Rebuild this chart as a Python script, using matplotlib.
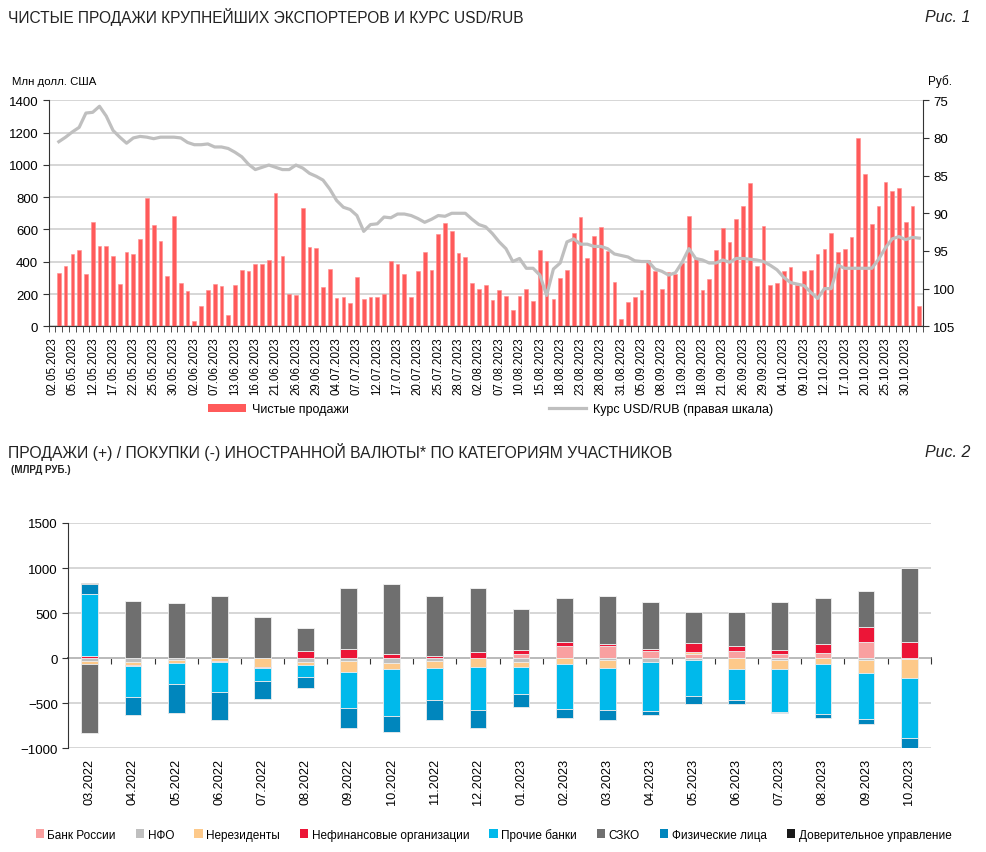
import numpy as np
import pandas as pd
import matplotlib
matplotlib.use("Agg")
import matplotlib.pyplot as plt
from matplotlib.patches import Patch
from matplotlib.lines import Line2D

plt.rcParams['font.family'] = ['Liberation Sans', 'DejaVu Sans']

# --- Рис. 1: daily data (first trading day has no value) ---
holidays = pd.to_datetime(["2023-05-08", "2023-05-09", "2023-06-12"])
days = pd.bdate_range("2023-05-02", "2023-11-01")
days = days[~days.isin(holidays)]
day_labels = [d.strftime("%d.%m.%Y") for d in days]

net_sales = [np.nan,
    330, 374, 448, 475, 326, 646, 496, 498, 434, 260,
    463, 448, 541, 793, 628, 529, 310, 684, 266, 217,
    33, 128, 227, 262, 250, 70, 256, 349, 345, 386,
    388, 411, 824, 438, 202, 194, 735, 494, 487, 242,
    357, 173, 182, 145, 304, 169, 184, 184, 200, 407,
    388, 324, 184, 345, 463, 349, 570, 642, 589, 456,
    430, 268, 233, 256, 165, 225, 188, 103, 186, 229,
    159, 471, 403, 169, 301, 349, 576, 677, 421, 560,
    613, 465, 273, 45, 153, 182, 225, 411, 341, 231,
    339, 322, 392, 681, 417, 223, 295, 473, 611, 525,
    665, 745, 888, 374, 624, 258, 268, 343, 368, 258,
    343, 349, 446, 479, 580, 460, 479, 553, 1167, 946,
    636, 745, 892, 838, 859, 646, 745, 126]

usd_rub = [np.nan,
    80.5, 79.9, 79.2, 78.6, 76.7, 76.6, 75.8, 77.1, 79.0, 79.9,
    80.7, 80.0, 79.8, 79.9, 80.1, 79.9, 79.9, 79.9, 80.0, 80.6,
    80.9, 80.9, 80.8, 81.2, 81.2, 81.4, 81.9, 82.5, 83.5, 84.2,
    83.9, 83.6, 83.9, 84.2, 84.2, 83.6, 84.0, 84.7, 85.1, 85.6,
    86.8, 88.3, 89.2, 89.5, 90.3, 92.4, 91.5, 91.4, 90.5, 90.6,
    90.1, 90.1, 90.3, 90.7, 91.2, 90.8, 90.3, 90.4, 90.0, 90.0,
    90.0, 90.8, 91.5, 91.8, 92.7, 93.8, 94.7, 96.4, 96.0, 97.3,
    97.3, 98.2, 100.9, 97.4, 96.6, 93.8, 93.4, 94.1, 94.1, 94.4,
    94.4, 94.7, 95.4, 95.6, 95.8, 96.3, 96.4, 96.4, 97.4, 97.7,
    98.2, 97.9, 96.5, 94.7, 96.0, 96.2, 96.6, 96.6, 96.2, 96.5,
    96.0, 96.0, 96.1, 96.2, 96.4, 96.9, 97.5, 98.5, 99.2, 99.4,
    99.6, 100.5, 101.3, 100.0, 100.0, 96.9, 97.3, 97.3, 97.3, 97.3,
    97.3, 96.1, 94.6, 93.4, 93.1, 93.5, 93.2, 93.3]

# --- Рис. 2: monthly data, bn RUB ---
months = ["03.2022", "04.2022", "05.2022", "06.2022", "07.2022", "08.2022",
          "09.2022", "10.2022", "11.2022", "12.2022", "01.2023", "02.2023",
          "03.2023", "04.2023", "05.2023", "06.2023", "07.2023", "08.2023",
          "09.2023", "10.2023"]
bank_russia = [0, 0, 0, 0, 0, 0, 0, 0, 0, 0, 44, 137, 133, 81, 48, 74, 44, 52, 174, 0]
nfo = [-37, -41, -22, -5, -5, -48, -30, -59, -30, -5, -41, 0, -22, -41, -26, 0, -26, 0, -19, -11]
nonres = [-33, -41, -37, -30, -95, -30, -126, -67, -85, -96, -59, -63, -89, 0, 22, -119, -93, -67, -152, -211]
nonfin = [20, -11, 0, -12, -11, 78, 96, 44, 26, 70, 41, 37, 22, 22, 100, 63, 41, 100, 170, 174]
other_banks = [695, -344, -233, -333, -148, -133, -404, -522, -356, -474,
               -304, -500, -470, -548, -400, -348, -481, -559, -511, -663]
szko = [-760, 630, 615, 693, 456, 259, 685, 774, 663, 707, 459, 493, 530, 522, 341, 374, 533, 519, 396, 830]
individuals = [111, -193, -319, -305, -193, -122, -222, -174, -222, -207,
               -144, -104, -104, -41, -81, -41, -11, -44, -52, -115]
trust = [8, 0, 0, 0, 0, 0, 0, 0, 0, 0, 0, 0, 0, 0, -7, 0, 0, 0, 0, 0]

series_names = ["Банк России", "НФО", "Нерезиденты", "Нефинансовые организации",
                "Прочие банки", "СЗКО", "Физические лица", "Доверительное управление"]
series_vals = [bank_russia, nfo, nonres, nonfin, other_banks, szko, individuals, trust]
series_colors = ["#F9A0A0", "#BFBFBF", "#FDC98A", "#EC1537",
                 "#00B9EB", "#6F6F6F", "#0086BD", "#1A1A1A"]

fig = plt.figure(figsize=(9.87, 8.53), dpi=100)

# ---------------- top chart ----------------
ax1 = fig.add_axes([0.0493, 0.6163, 0.8855, 0.265])
x = np.arange(len(day_labels))
ax1.bar(x, net_sales, width=0.55, color="#FF5A5A", edgecolor="#FF8C8C", linewidth=0.4, zorder=2)
ax1.set_xlim(-0.5, len(x) - 0.5)
ax1.set_ylim(0, 1400)
ax1.set_yticks(range(0, 1401, 200))
ax1.yaxis.grid(True, color="#D0D0D0", linewidth=1.2, zorder=0)
ax1.set_axisbelow(True)
ax1.set_xticks(x[::3])
ax1.set_xticklabels(day_labels[::3], rotation=90, fontsize=8.3)
ax1.set_xticks(np.arange(-0.5, len(x)), minor=True)
ax1.tick_params(axis="x", which="major", length=0, pad=7)
ax1.tick_params(axis="x", which="minor", length=4, color="#333333")
ax1.tick_params(axis="y", length=4, labelsize=9.5, color="#333333")
for s in ["top", "right"]:
    ax1.spines[s].set_visible(False)
ax1.spines["left"].set_color("#333333")
ax1.spines["bottom"].set_color("#333333")

ax2 = ax1.twinx()
ax2.plot(x, usd_rub, color="#BFBFBF", linewidth=2.3, zorder=3)
ax2.set_ylim(105, 75)
ax2.set_yticks(range(75, 106, 5))
ax2.tick_params(axis="y", length=4, labelsize=9.5, color="#333333")
for s in ["top", "left", "bottom"]:
    ax2.spines[s].set_visible(False)
ax2.spines["right"].set_color("#333333")

fig.text(0.008, 0.980, "ЧИСТЫЕ ПРОДАЖИ КРУПНЕЙШИХ ЭКСПОРТЕРОВ И КУРС USD/RUB",
         fontsize=11.2, va="center", ha="left", color="#222222")
fig.text(0.983, 0.980, "Рис. 1", fontsize=11.5, style="italic", va="center", ha="right", color="#222222")
fig.text(0.012, 0.904, "Млн долл. США", fontsize=8.2, va="center", ha="left")
fig.text(0.940, 0.904, "Руб.", fontsize=8.5, va="center", ha="left")

h1 = [Patch(facecolor="#FF5A5A"), Line2D([0], [0], color="#BFBFBF", linewidth=2.3)]
fig.legend(h1, ["Чистые продажи", "Курс USD/RUB (правая шкала)"], loc="center",
           bbox_to_anchor=(0.497, 0.519), ncol=2, frameon=False, fontsize=9,
           handlelength=3, handleheight=0.6, handletextpad=0.5, columnspacing=16)

# ---------------- bottom chart ----------------
ax3 = fig.add_axes([0.0692, 0.1219, 0.8738, 0.2638])
xm = np.arange(len(months))
pos_base = np.zeros(len(months))
neg_base = np.zeros(len(months))
for vals, col in zip(series_vals, series_colors):
    v = np.array(vals, dtype=float)
    base = np.where(v >= 0, pos_base, neg_base)
    ax3.bar(xm, v, bottom=base, width=0.39, color=col, edgecolor="#EDEDED", linewidth=0.6, zorder=2)
    pos_base += np.where(v > 0, v, 0)
    neg_base += np.where(v < 0, v, 0)

ax3.set_xlim(-0.5, len(months) - 0.5)
ax3.set_ylim(-1000, 1500)
ax3.set_yticks(range(-1000, 1501, 500))
ax3.yaxis.grid(True, color="#D0D0D0", linewidth=1.2, zorder=0)
ax3.set_axisbelow(True)
ax3.set_xticks(xm)
ax3.set_xticklabels(months, rotation=90, fontsize=9.2)
ax3.tick_params(axis="x", length=0, pad=7)
ax3.tick_params(axis="y", length=4, labelsize=9.5, color="#333333")
for s in ["top", "right", "bottom"]:
    ax3.spines[s].set_visible(False)
ax3.spines["left"].set_color("#333333")
zero_ax = ax3.secondary_xaxis(0.4)
zero_ax.set_xticks(np.arange(0.5, len(months)))
zero_ax.tick_params(axis="x", direction="out", length=4, labelbottom=False, color="#333333")
zero_ax.spines["bottom"].set_color("#333333")
zero_ax.spines["bottom"].set_linewidth(1.2)

fig.text(0.008, 0.470, "ПРОДАЖИ (+) / ПОКУПКИ (-) ИНОСТРАННОЙ ВАЛЮТЫ* ПО КАТЕГОРИЯМ УЧАСТНИКОВ",
         fontsize=11.3, va="center", ha="left", color="#222222")
fig.text(0.983, 0.470, "Рис. 2", fontsize=11.5, style="italic", va="center", ha="right", color="#222222")
fig.text(0.011, 0.449, "(МЛРД РУБ.)", fontsize=7, weight="bold",
         va="center", ha="left", color="#222222")

h2 = [Patch(facecolor=c) for c in series_colors]
fig.legend(h2, series_names, loc="center", bbox_to_anchor=(0.5, 0.021), ncol=8,
           frameon=False, fontsize=8.5, handlelength=0.7, handleheight=0.9,
           handletextpad=0.3, columnspacing=1.7)

fig.savefig("out.png", dpi=100)
